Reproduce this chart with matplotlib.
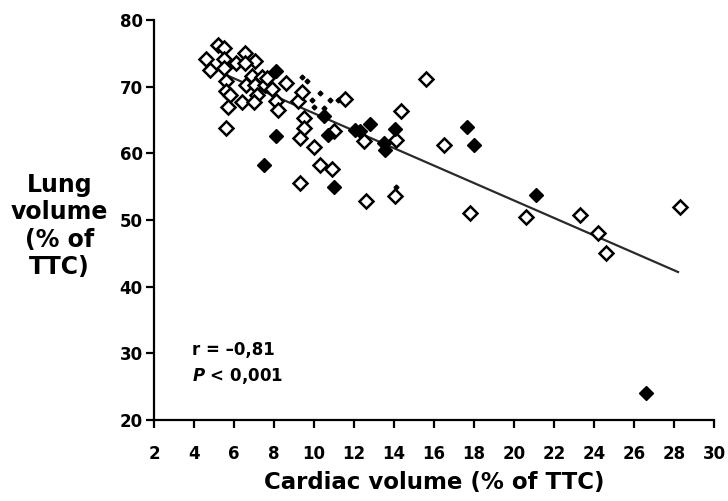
import matplotlib
matplotlib.use("Agg")
import matplotlib.pyplot as plt

plt.rcParams['font.family'] = ['DejaVu Sans']
plt.rcParams['font.weight'] = 'bold'
plt.rcParams['mathtext.fontset'] = 'custom'
plt.rcParams['mathtext.it'] = 'DejaVu Sans:bold:italic'
plt.rcParams['mathtext.rm'] = 'DejaVu Sans:bold'

# open diamonds
open_x = [5.2, 4.6, 5.5, 5.5, 6.55, 7.05, 6.1, 6.55, 4.8, 5.5, 6.9, 7.4, 5.6, 5.6,
          6.6, 7.05, 7.55, 7.9, 7.15, 5.8, 5.7, 6.4, 7.0, 8.1, 8.2, 5.6, 8.6, 7.65,
          9.2, 9.4, 9.5, 9.5, 9.3, 10.0, 10.3, 10.9, 11.55, 11.0, 9.3, 12.6, 12.5,
          14.05, 14.1, 14.35, 15.6, 16.5, 17.8, 20.6, 23.3, 24.2, 24.6, 28.3]
open_y = [76.3, 74.2, 75.8, 74.2, 75.0, 73.8, 73.5, 73.5, 72.5, 72.8, 71.6, 71.5, 70.8, 69.3,
          70.3, 70.3, 70.3, 69.6, 68.8, 68.7, 67.0, 67.7, 67.7, 67.8, 66.5, 63.8, 70.6, 71.3,
          67.8, 69.2, 65.3, 63.8, 62.3, 61.0, 58.2, 57.7, 68.2, 63.3, 55.5, 52.9, 61.8,
          53.6, 62.0, 66.3, 71.2, 61.3, 51.0, 50.5, 50.7, 48.0, 45.0, 51.9]

# filled diamonds
fill_x = [8.1, 10.5, 8.1, 7.5, 11.0, 10.7, 12.05, 12.3, 12.8, 13.5, 13.55, 14.05,
          17.67, 18.0, 21.1, 26.6]
fill_y = [72.3, 65.6, 62.6, 58.3, 55.0, 62.8, 63.5, 63.3, 64.4, 61.5, 60.5, 63.6,
          64.0, 61.3, 53.8, 24.0]

# faint small marks (dotted cluster)
dot_x = [9.4, 9.65, 10.3, 10.8, 11.2, 9.9, 10.5, 10.0, 14.1]
dot_y = [71.5, 70.8, 69.0, 68.0, 68.0, 68.0, 66.8, 67.0, 55.0]

# regression line
line_x = [5.5, 28.2]
line_y = [71.9, 42.2]

fig = plt.figure(figsize=(7.28, 5.01), dpi=100)
ax = fig.add_axes([0.2115, 0.1617, 0.7693, 0.7983])

ax.plot(line_x, line_y, color='#2a2a2a', lw=1.6, zorder=2)
ax.plot(open_x, open_y, ls='none', marker='D', ms=7.2, mfc='white', mec='black', mew=1.8, zorder=3)
ax.plot(fill_x, fill_y, ls='none', marker='D', ms=7.2, mfc='black', mec='black', mew=1.0, zorder=4)
ax.plot(dot_x, dot_y, ls='none', marker='D', ms=2.5, mfc='black', mec='black', zorder=4)

ax.set_xlim(2, 30)
ax.set_ylim(20, 80)
ax.set_xticks(range(2, 31, 2))
ax.set_yticks(range(20, 81, 10))
ax.spines['top'].set_visible(False)
ax.spines['right'].set_visible(False)
for s in ['left', 'bottom']:
    ax.spines[s].set_linewidth(1.6)
ax.tick_params(direction='out', length=6, width=1.6, labelsize=12)
ax.tick_params(axis='x', pad=12)
ax.tick_params(axis='y', pad=2)

ax.set_xlabel('Cardiac volume (% of TTC)', fontsize=16.5, fontweight='bold', labelpad=6)
fig.text(0.082, 0.549, 'Lung\nvolume\n(% of\nTTC)', ha='center', va='center',
         fontsize=17, fontweight='bold', linespacing=1.17)

ax.text(3.9, 29.75, 'r = \u20130,81', fontsize=12, fontweight='bold')
ax.text(3.9, 25.85, '$P$ < 0,001', fontsize=12, fontweight='bold')

fig.savefig('out.png', dpi=100)
